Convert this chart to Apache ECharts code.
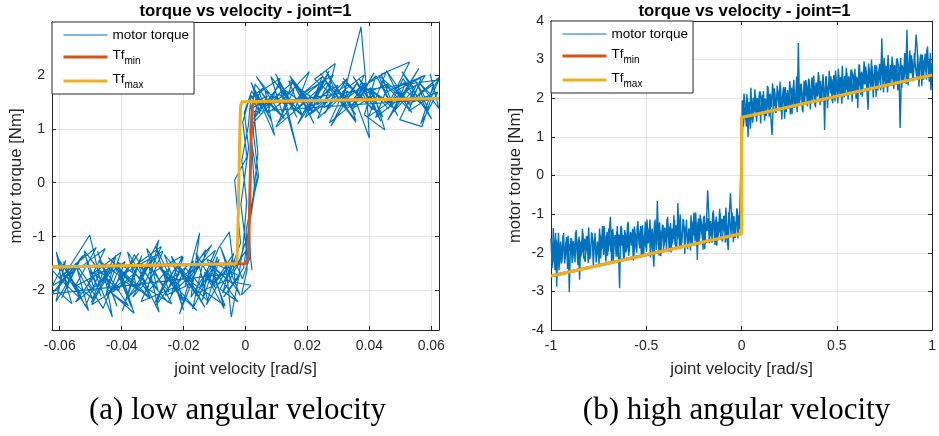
<!DOCTYPE html>
<html><head><meta charset="utf-8">
<script src="https://cdn.jsdelivr.net/npm/echarts@6/dist/echarts.min.js"></script>
<style>html,body{margin:0;padding:0;background:#fff}#c{width:939px;height:436px}</style>
</head><body><div id="c"></div>
<script>
// ---------- DATA ----------
const panelTitle = 'torque vs velocity - joint=1';
const captions = ['(a) low angular velocity', '(b) high angular velocity'];
const seriesNames = ['motor torque', 'Tf_min', 'Tf_max'];

// (a) low angular velocity: measured samples [velocity, torque] in time order
const lowVelTorque = [
[-0.0625,-1.62],[-0.0571,-1.95],[-0.0608,-1.38],[-0.0532,-2.05],[-0.0585,-1.71],[-0.0503,-0.97],[-0.0468,-1.84],[-0.0549,-2.21],[-0.0461,-1.52],[-0.0430,-2.49],
[-0.0487,-1.66],[-0.0402,-1.29],[-0.0445,-1.98],[-0.0360,-2.42],[-0.0413,-1.47],[-0.0327,-1.82],[-0.0381,-2.14],[-0.0296,-1.41],[-0.0342,-1.76],[-0.0280,-1.06],
[-0.0318,-2.03],[-0.0245,-1.58],[-0.0289,-2.27],[-0.0214,-1.69],[-0.0262,-1.33],[-0.0200,-2.36],[-0.0231,-1.74],[-0.0168,-1.45],[-0.0195,-1.91],[-0.0148,-0.93],
[-0.0176,-2.12],[-0.0122,-1.61],[-0.0139,-2.18],[-0.0091,-1.37],[-0.0108,-1.88],[-0.0063,-1.55],[-0.0046,-2.49],
[-0.0021,-1.71],[-0.0008,-1.18],[0.0004,-0.35],[-0.0012,0.42],[0.0009,1.05],[0.0018,1.62],
[0.0047,1.28],[0.0021,1.83],[0.0094,0.88],[0.0063,1.71],[0.0135,1.42],[0.0102,1.95],[0.0168,0.58],[0.0127,1.57],[0.0206,2.06],[0.0158,1.34],
[0.0241,1.76],[0.0192,1.21],[0.0280,1.63],[0.0223,1.92],[0.0290,2.21],[0.0254,1.39],[0.0331,1.70],[0.0276,1.05],[0.0362,1.86],[0.0310,1.47],
[0.0373,2.89],[0.0390,1.78],[0.0400,0.83],[0.0352,1.58],[0.0421,1.98],[0.0384,1.26],[0.0450,0.98],[0.0412,1.69],[0.0476,1.44],[0.0438,2.01],
[0.0530,2.24],[0.0467,1.52],[0.0552,1.81],[0.0498,1.17],[0.0570,1.04],[0.0605,1.66],[0.0625,1.91],
[0.0036,1.44],[0.0025,0.95],[0.0042,0.12],[0.0011,-0.62],[0.0016,-1.36],[-0.0010,-1.78],
[-0.0035,-1.44],[-0.0082,-1.97],[-0.0024,-2.21],[-0.0115,-1.52],[-0.0058,-1.80],[-0.0154,-2.04],[-0.0097,-1.25],[-0.0187,-1.72],[-0.0131,-2.31],[-0.0222,-1.49],
[-0.0170,-1.86],[-0.0259,-2.09],[-0.0204,-1.36],[-0.0293,-1.64],[-0.0238,-2.25],[-0.0330,-1.92],[-0.0272,-1.18],[-0.0366,-1.57],[-0.0309,-2.11],[-0.0402,-1.79],
[-0.0345,-1.31],[-0.0438,-2.02],[-0.0378,-2.28],[-0.0474,-1.44],[-0.0416,-1.69],[-0.0460,-2.33],[-0.0509,-1.88],[-0.0453,-1.22],[-0.0543,-1.61],[-0.0492,-2.16],
[-0.0578,-1.74],[-0.0526,-1.35],[-0.0610,-1.99],[-0.0561,-2.24],[-0.0611,-1.28],[-0.0594,-1.84],[-0.0625,-2.06],
[-0.0052,-1.69],[-0.0016,-1.12],[-0.0035,0.05],[0.0005,0.48],[-0.0009,1.12],[0.0012,1.55],
[0.0058,1.76],[0.0012,1.36],[0.0088,1.58],[0.0035,1.97],[0.0119,1.22],[0.0074,1.49],[0.0150,1.85],[0.0108,1.12],[0.0184,1.68],[0.0143,1.98],
[0.0217,1.31],[0.0176,1.54],[0.0252,1.90],[0.0209,1.27],[0.0288,1.60],[0.0243,2.03],[0.0322,1.38],[0.0279,1.74],[0.0357,1.15],[0.0314,1.88],
[0.0392,1.51],[0.0348,1.97],[0.0428,1.29],[0.0386,1.65],[0.0463,1.84],[0.0420,1.21],[0.0499,1.56],[0.0455,2.08],[0.0534,1.42],[0.0491,1.72],
[0.0568,1.95],[0.0527,1.33],[0.0603,1.61],[0.0560,1.86],[0.0625,1.38],[0.0596,2.02],[0.0618,1.55],
[0.0027,1.32],[0.0040,0.54],[0.0022,-0.41],[0.0007,-1.02],[-0.0006,-1.58],
[-0.0071,-2.12],[-0.0019,-1.73],[-0.0124,-1.42],[-0.0066,-2.28],[-0.0178,-1.83],[-0.0109,-1.15],[-0.0233,-1.96],[-0.0157,-2.37],[-0.0286,-1.51],[-0.0213,-1.90],
[-0.0337,-2.20],[-0.0267,-1.27],[-0.0390,-1.68],[-0.0321,-2.06],[-0.0443,-1.39],[-0.0374,-1.81],[-0.0497,-2.26],[-0.0428,-1.55],[-0.0550,-1.92],[-0.0482,-1.20],
[-0.0603,-1.76],[-0.0535,-2.14],[-0.0588,-1.47],[-0.0517,-2.29],[-0.0469,-1.63],[-0.0411,-2.01],[-0.0359,-1.33],[-0.0302,-1.87],[-0.0250,-2.22],[-0.0194,-1.58],
[-0.0141,-1.94],[-0.0087,-1.21],[-0.0052,-0.91],[-0.0033,-1.85],[0.0018,-1.90],[-0.0013,-2.08],[0.0005,-1.62],
[0.0002,-0.88],[0.0038,0.10],[0.0014,0.95],[0.0024,1.48],
[0.0071,1.61],[0.0026,1.18],[0.0113,1.84],[0.0059,1.40],[0.0157,1.73],[0.0098,1.03],[0.0199,1.52],[0.0146,1.91],[0.0242,1.26],[0.0187,1.66],
[0.0284,2.00],[0.0230,1.44],[0.0327,1.81],[0.0271,1.11],[0.0369,1.57],[0.0315,1.94],[0.0411,1.35],[0.0356,1.70],[0.0454,2.05],[0.0398,1.23],
[0.0496,1.62],[0.0441,1.88],[0.0538,1.30],[0.0483,1.75],[0.0580,1.99],[0.0525,1.46],[0.0621,1.68],[0.0566,1.09],[0.0608,1.83],[0.0547,1.57],
[0.0509,1.93],[0.0461,1.37],[0.0404,1.76],[0.0338,1.49],[0.0262,1.86],[0.0181,1.25],[0.0109,1.64],
[0.0015,1.05],[0.0030,-0.15],[0.0008,-0.95],[-0.0021,-1.48],
[-0.0074,-2.05],[-0.0038,-1.31],[-0.0102,-1.88],[-0.0057,-1.57],[-0.0126,-2.26],[-0.0085,-1.42],[-0.0149,-1.95],[-0.0113,-1.68],[-0.0171,-2.34],
[-0.0128,-1.24],[-0.0193,-1.79],[-0.0157,-2.10],[-0.0224,-1.52],[-0.0181,-1.97],[-0.0239,-1.36],[-0.0203,-2.18],[-0.0268,-1.63],[-0.0232,-1.89],[-0.0291,-1.17],
[-0.0247,-2.03],[-0.0312,-1.55],[-0.0279,-2.40],[-0.0338,-1.72],[-0.0301,-1.40],[-0.0364,-2.12],[-0.0322,-1.85],[-0.0381,-1.28],[-0.0349,-1.99],[-0.0412,-1.61],
[-0.0368,-2.31],[-0.0429,-1.45],[-0.0394,-1.81],[-0.0451,-2.08],[-0.0418,-1.34],[-0.0477,-1.93],[-0.0436,-1.58],[-0.0498,-2.22],[-0.0463,-1.70],[-0.0521,-1.26],
[-0.0488,-2.01],[-0.0549,-1.49],[-0.0507,-2.37],[-0.0572,-1.77],[-0.0531,-1.39],[-0.0594,-2.14],[-0.0556,-1.66],[-0.0625,-1.92],[-0.0581,-1.44],[-0.0612,-2.20],
[-0.0547,-1.59],[-0.0603,-1.87],[-0.0519,-1.33],
[-0.0466,-2.11],[-0.0502,-1.63],[-0.0441,-1.90],[-0.0478,-1.27],[-0.0415,-2.29],[-0.0452,-1.74],[-0.0389,-1.46],[-0.0427,-2.02],[-0.0361,-1.69],[-0.0398,-2.38],
[-0.0335,-1.35],[-0.0372,-1.84],[-0.0308,-2.15],[-0.0346,-1.51],[-0.0283,-1.98],[-0.0319,-1.22],[-0.0255,-1.77],[-0.0294,-2.24],[-0.0228,-1.60],[-0.0266,-1.91],
[-0.0201,-1.38],[-0.0240,-2.07],[-0.0176,-1.71],[-0.0213,-2.43],[-0.0149,-1.48],[-0.0187,-1.83],[-0.0122,-2.19],[-0.0160,-1.30],[-0.0096,-1.96],[-0.0133,-1.66],
[-0.0069,-2.33],[-0.0107,-1.54],[-0.0043,-1.87],[-0.0081,-1.19],[-0.0017,-2.09],[-0.0055,-1.73],
[0.0003,-1.25],[-0.0015,-0.40],[0.0010,0.65],[-0.0004,1.30],[0.0020,1.70],
[0.0052,1.38],[0.0018,1.86],[0.0083,1.15],[0.0044,1.67],[0.0112,1.94],[0.0071,1.29],[0.0139,1.58],[0.0097,2.02],[0.0166,1.21],[0.0124,1.73],
[0.0193,1.45],[0.0151,1.88],[0.0221,1.10],[0.0178,1.62],[0.0247,1.96],[0.0206,1.33],[0.0274,1.77],[0.0233,1.19],[0.0302,1.55],[0.0259,2.09],
[0.0329,1.41],[0.0287,1.83],[0.0356,1.26],[0.0313,1.69],[0.0383,2.00],[0.0341,1.36],[0.0411,1.61],[0.0368,1.92],[0.0437,1.14],[0.0396,1.72],
[0.0465,1.50],[0.0423,1.98],[0.0492,1.24],[0.0450,1.66],[0.0519,1.87],[0.0477,1.31],[0.0546,1.74],[0.0505,2.06],[0.0573,1.43],[0.0532,1.80],
[0.0601,1.18],[0.0559,1.64],[0.0625,1.95],[0.0586,1.52],
[0.0548,1.90],[0.0591,1.35],[0.0517,1.71],[0.0560,2.12],[0.0488,1.47],[0.0531,1.79],[0.0459,1.16],[0.0502,1.63],[0.0430,1.99],[0.0473,1.40],
[0.0401,1.75],[0.0444,1.22],[0.0372,1.57],[0.0415,2.04],[0.0343,1.33],[0.0386,1.85],[0.0314,1.49],[0.0357,1.12],[0.0285,1.68],[0.0328,1.93],
[0.0256,1.28],[0.0299,1.81],[0.0227,1.54],[0.0270,2.07],[0.0198,1.37],[0.0241,1.70],[0.0169,1.09],[0.0212,1.59],[0.0140,1.89],[0.0183,1.25],
[0.0111,1.76],[0.0154,1.42],[0.0082,1.97],[0.0125,1.19],[0.0053,1.65],[0.0096,1.34],[0.0031,1.83],
[0.0015,1.05],[0.0030,-0.15],[0.0008,-0.95],[0.0021,-1.62]
];
const lowTfMin = [[-0.0625,-1.56],[-0.0003,-1.50],[0.0009,-1.42],[0.0013,-0.5],[0.0018,0.8],[0.0022,1.42],[0.0028,1.50],[0.0625,1.56]];
const lowTfMax = [[-0.0625,-1.56],[-0.0032,-1.50],[-0.0027,-1.42],[-0.0023,-0.5],[-0.0019,0.8],[-0.0016,1.42],[-0.0012,1.50],[0.0625,1.56]];

// (b) high angular velocity: sweep up (neg -> pos) then sweep down (pos -> neg)
const highVelNegUp = [
-1.000,-0.994,-0.988,-0.982,-0.976,-0.970,-0.964,-0.958,-0.952,-0.946,
-0.940,-0.934,-0.928,-0.922,-0.916,-0.910,-0.904,-0.898,-0.892,-0.886,
-0.880,-0.874,-0.868,-0.862,-0.856,-0.850,-0.844,-0.838,-0.832,-0.826,
-0.820,-0.814,-0.808,-0.802,-0.796,-0.790,-0.784,-0.778,-0.772,-0.766,
-0.760,-0.754,-0.748,-0.742,-0.736,-0.730,-0.724,-0.718,-0.712,-0.706,
-0.700,-0.694,-0.688,-0.682,-0.676,-0.670,-0.664,-0.658,-0.652,-0.646,
-0.640,-0.634,-0.628,-0.622,-0.616,-0.610,-0.604,-0.598,-0.592,-0.586,
-0.580,-0.574,-0.568,-0.562,-0.556,-0.550,-0.544,-0.538,-0.532,-0.526,
-0.520,-0.514,-0.508,-0.502,-0.496,-0.490,-0.484,-0.478,-0.472,-0.466,
-0.460,-0.454,-0.448,-0.442,-0.436,-0.430,-0.424,-0.418,-0.412,-0.406,
-0.400,-0.394,-0.388,-0.382,-0.376,-0.370,-0.364,-0.358,-0.352,-0.346,
-0.340,-0.334,-0.328,-0.322,-0.316,-0.310,-0.304,-0.298,-0.292,-0.286,
-0.280,-0.274,-0.268,-0.262,-0.256,-0.250,-0.244,-0.238,-0.232,-0.226,
-0.220,-0.214,-0.208,-0.202,-0.196,-0.190,-0.184,-0.178,-0.172,-0.166,
-0.160,-0.154,-0.148,-0.142,-0.136,-0.130,-0.124,-0.118,-0.112,-0.106,
-0.100,-0.094,-0.088,-0.082,-0.076,-0.070,-0.064,-0.058,-0.052,-0.046,
-0.040,-0.034,-0.028,-0.022,-0.016,-0.010
];
const highTorqueNegUp = [
-1.63,-2.40,-1.36,-2.23,-1.48,-2.88,-1.70,-2.46,-1.92,-2.28,
-2.12,-1.49,-2.28,-1.72,-2.00,-1.56,-3.02,-1.82,-1.63,-2.16,
-1.79,-2.25,-1.41,-2.03,-1.65,-2.70,-1.71,-1.99,-1.49,-2.15,
-2.23,-1.57,-1.97,-1.35,-2.17,-1.77,-1.49,-2.37,-1.65,-1.90,
-2.11,-1.75,-2.29,-1.53,-1.93,-1.31,-2.06,-1.66,-2.23,-1.46,
-1.98,-1.45,-1.07,-2.26,-1.38,-1.82,-1.54,-2.10,-1.31,-1.94,
-2.92,-1.32,-1.82,-1.54,-2.16,-1.48,-1.86,-1.24,-2.08,-1.62,
-1.73,-1.48,-2.20,-1.32,-1.60,-2.00,-1.18,-1.80,-1.40,-2.06,
-1.29,-2.06,-1.49,-1.89,-1.14,-1.76,-1.36,-2.12,-1.58,-1.94,
-2.36,-1.14,-1.93,-0.66,-1.65,-1.21,-2.09,-1.47,-1.28,-1.81,
-1.45,-1.91,-1.07,-1.69,-1.31,-1.99,-1.37,-1.65,-1.15,-1.81,
-1.89,-0.71,-1.63,-1.01,-1.83,-1.43,-1.15,-2.03,-1.31,-1.56,
-1.76,-1.40,-1.94,-1.18,-1.58,-0.96,-1.71,-1.31,-2.19,-1.11,
-1.64,-1.11,-1.30,-1.92,-1.04,-1.48,-1.20,-0.38,-0.97,-1.60,
-1.28,-1.74,-0.90,-1.52,-1.14,-1.82,-1.20,-1.48,-0.98,-1.64,
-1.71,-1.05,-1.45,-0.83,-1.65,-1.93,-0.97,-0.46,-1.13,-1.38,
-1.05,-1.62,-1.18,-0.88,-1.49,-1.10
];
const highVelPosUp = [
0.004,0.010,0.016,0.022,0.028,0.034,0.040,0.046,0.052,0.058,
0.064,0.070,0.076,0.082,0.088,0.094,0.100,0.106,0.112,0.118,
0.124,0.130,0.136,0.142,0.148,0.154,0.160,0.166,0.172,0.178,
0.184,0.190,0.196,0.202,0.208,0.214,0.220,0.226,0.232,0.238,
0.244,0.250,0.256,0.262,0.268,0.274,0.280,0.286,0.292,0.298,
0.304,0.310,0.316,0.322,0.328,0.334,0.340,0.346,0.352,0.358,
0.364,0.370,0.376,0.382,0.388,0.394,0.400,0.406,0.412,0.418,
0.424,0.430,0.436,0.442,0.448,0.454,0.460,0.466,0.472,0.478,
0.484,0.490,0.496,0.502,0.508,0.514,0.520,0.526,0.532,0.538,
0.544,0.550,0.556,0.562,0.568,0.574,0.580,0.586,0.592,0.598,
0.604,0.610,0.616,0.622,0.628,0.634,0.640,0.646,0.652,0.658,
0.664,0.670,0.676,0.682,0.688,0.694,0.700,0.706,0.712,0.718,
0.724,0.730,0.736,0.742,0.748,0.754,0.760,0.766,0.772,0.778,
0.784,0.790,0.796,0.802,0.808,0.814,0.820,0.826,0.832,0.838,
0.844,0.850,0.856,0.862,0.868,0.874,0.880,0.886,0.892,0.898,
0.904,0.910,0.916,0.922,0.928,0.934,0.940,0.946,0.952,0.958,
0.964,0.970,0.976,0.982,0.988,0.994,1.000
];
const highTorquePosUp = [
1.95,1.27,1.77,1.43,2.11,1.00,1.90,1.21,1.73,1.37,
1.61,2.23,1.51,2.01,1.77,2.17,1.35,1.95,2.09,1.57,
2.00,1.54,2.32,1.76,2.10,1.48,1.05,1.80,2.26,1.62,
1.59,2.21,1.85,2.43,1.65,2.01,2.29,1.47,2.13,1.89,
1.74,2.10,1.58,2.27,1.92,2.48,1.80,2.14,1.64,3.43,
1.85,2.37,2.23,1.63,2.45,2.05,2.29,1.79,2.51,1.89,
1.90,2.54,2.08,2.32,1.76,2.38,2.04,2.60,1.82,2.28,
2.17,2.41,1.18,2.57,2.29,1.93,2.71,2.13,2.49,1.87,
2.60,1.92,2.42,2.08,2.76,2.20,2.55,1.86,2.38,2.02,
2.17,2.79,2.07,2.57,2.33,2.73,1.91,2.51,2.65,2.13,
2.56,1.75,2.88,2.32,2.66,2.04,2.60,2.36,2.82,2.18,
1.70,2.78,2.42,3.00,2.22,2.58,2.86,2.04,2.70,2.46,
2.89,2.21,3.55,2.37,3.05,2.49,2.84,2.15,2.67,2.31,
2.46,3.08,2.36,2.86,2.62,3.02,2.20,2.80,1.23,2.42,
2.85,2.39,3.17,2.61,3.77,2.33,2.89,2.65,3.11,2.47,
2.44,3.06,3.65,3.28,2.50,2.86,3.14,2.32,2.98,2.74,
3.16,2.48,3.34,2.64,3.02,2.21,2.90
];
const highVelPosDown = [
0.997,0.991,0.985,0.979,0.973,0.967,0.961,0.955,0.949,0.943,
0.937,0.931,0.925,0.919,0.913,0.907,0.901,0.895,0.889,0.883,
0.877,0.871,0.865,0.859,0.853,0.847,0.841,0.835,0.829,0.823,
0.817,0.811,0.805,0.799,0.793,0.787,0.781,0.775,0.769,0.763,
0.757,0.751,0.745,0.739,0.733,0.727,0.721,0.715,0.709,0.703,
0.697,0.691,0.685,0.679,0.673,0.667,0.661,0.655,0.649,0.643,
0.637,0.631,0.625,0.619,0.613,0.607,0.601,0.595,0.589,0.583,
0.577,0.571,0.565,0.559,0.553,0.547,0.541,0.535,0.529,0.523,
0.517,0.511,0.505,0.499,0.493,0.487,0.481,0.475,0.469,0.463,
0.457,0.451,0.445,0.439,0.433,0.427,0.421,0.415,0.409,0.403,
0.397,0.391,0.385,0.379,0.373,0.367,0.361,0.355,0.349,0.343,
0.337,0.331,0.325,0.319,0.313,0.307,0.301,0.295,0.289,0.283,
0.277,0.271,0.265,0.259,0.253,0.247,0.241,0.235,0.229,0.223,
0.217,0.211,0.205,0.199,0.193,0.187,0.181,0.175,0.169,0.163,
0.157,0.151,0.145,0.139,0.133,0.127,0.121,0.115,0.109,0.103,
0.097,0.091,0.085,0.079,0.073,0.067,0.061,0.055,0.049,0.043,
0.037,0.031,0.025,0.019,0.013,0.007
];
const highTorquePosDown = [
2.59,3.17,2.43,2.91,3.28,2.68,3.05,2.48,3.13,2.79,
2.95,2.30,3.13,2.56,2.79,3.18,2.47,3.01,2.65,3.24,
2.62,2.97,2.37,3.15,2.51,2.81,2.27,3.04,2.46,2.85,
3.03,2.41,2.72,2.24,2.94,2.50,2.86,2.35,3.12,2.46,
2.31,2.89,2.15,2.63,3.00,2.40,2.77,2.20,2.85,2.51,
2.67,2.02,2.85,2.28,2.51,2.90,2.19,2.73,2.37,2.96,
2.34,2.69,2.09,2.87,2.23,2.53,1.99,2.76,2.18,2.57,
2.75,2.13,2.44,1.96,2.66,2.22,2.58,2.07,2.84,2.18,
2.03,2.61,1.87,2.35,2.72,2.12,2.49,1.92,2.57,2.23,
2.39,1.74,2.57,2.00,2.23,2.62,1.91,2.45,2.09,2.68,
2.06,2.41,1.81,2.59,1.95,2.25,1.71,2.48,1.90,2.29,
2.47,1.85,2.16,1.68,2.38,1.94,2.30,1.79,2.56,1.90,
1.75,2.33,1.59,2.07,2.44,1.84,2.21,1.64,2.29,1.95,
2.10,1.45,2.28,1.71,1.94,2.33,1.62,2.16,1.80,2.39,
1.77,2.12,1.52,2.30,1.66,1.96,1.42,2.19,1.61,2.00,
2.18,1.56,1.87,1.39,2.09,1.65,2.01,1.50,2.27,1.61,
1.43,2.01,1.27,1.75,2.12,1.52
];
const highVelNegDown = [
-0.007,-0.013,-0.019,-0.025,-0.031,-0.037,-0.043,-0.049,-0.055,-0.061,
-0.067,-0.073,-0.079,-0.085,-0.091,-0.097,-0.103,-0.109,-0.115,-0.121,
-0.127,-0.133,-0.139,-0.145,-0.151,-0.157,-0.163,-0.169,-0.175,-0.181,
-0.187,-0.193,-0.199,-0.205,-0.211,-0.217,-0.223,-0.229,-0.235,-0.241,
-0.247,-0.253,-0.259,-0.265,-0.271,-0.277,-0.283,-0.289,-0.295,-0.301,
-0.307,-0.313,-0.319,-0.325,-0.331,-0.337,-0.343,-0.349,-0.355,-0.361,
-0.367,-0.373,-0.379,-0.385,-0.391,-0.397,-0.403,-0.409,-0.415,-0.421,
-0.427,-0.433,-0.439,-0.445,-0.451,-0.457,-0.463,-0.469,-0.475,-0.481,
-0.487,-0.493,-0.499,-0.505,-0.511,-0.517,-0.523,-0.529,-0.535,-0.541,
-0.547,-0.553,-0.559,-0.565,-0.571,-0.577,-0.583,-0.589,-0.595,-0.601,
-0.607,-0.613,-0.619,-0.625,-0.631,-0.637,-0.643,-0.649,-0.655,-0.661,
-0.667,-0.673,-0.679,-0.685,-0.691,-0.697,-0.703,-0.709,-0.715,-0.721,
-0.727,-0.733,-0.739,-0.745,-0.751,-0.757,-0.763,-0.769,-0.775,-0.781,
-0.787,-0.793,-0.799,-0.805,-0.811,-0.817,-0.823,-0.829,-0.835,-0.841,
-0.847,-0.853,-0.859,-0.865,-0.871,-0.877,-0.883,-0.889,-0.895,-0.901,
-0.907,-0.913,-0.919,-0.925,-0.931,-0.937,-0.943,-0.949,-0.955,-0.961,
-0.967,-0.973,-0.979,-0.985,-0.991,-0.997
];
const highTorqueNegDown = [
-1.38,-1.03,-1.63,-0.85,-1.49,-1.19,-1.73,-0.96,-1.54,-1.15,
-0.95,-1.57,-1.26,-1.74,-1.04,-1.48,-1.12,-1.63,-0.86,-1.52,
-1.64,-1.06,-1.80,-1.32,-0.95,-1.55,-1.18,-1.75,-1.10,-1.44,
-1.25,-1.90,-1.07,-1.64,-1.41,-1.02,-1.73,-1.19,-1.55,-0.96,
-1.56,-1.21,-1.81,-1.03,-1.67,-1.37,-1.91,-1.14,-1.72,-1.33,
-1.12,-1.74,-1.43,-1.91,-1.21,-1.65,-1.29,-1.80,-1.03,-1.69,
-1.81,-1.23,-1.97,-1.49,-1.12,-1.72,-1.35,-1.92,-1.27,-1.61,
-1.43,-2.08,-1.25,-1.82,-1.59,-1.20,-1.91,-1.37,-1.73,-1.14,
-1.73,-1.38,-1.98,-1.20,-1.84,-1.54,-2.08,-1.31,-1.89,-1.50,
-1.29,-1.91,-1.60,-2.08,-1.38,-1.82,-1.46,-1.97,-1.20,-1.86,
-1.99,-1.41,-2.15,-1.67,-1.30,-1.90,-1.53,-2.10,-1.45,-1.79,
-1.60,-2.25,-1.42,-1.99,-1.76,-1.37,-2.08,-1.54,-1.90,-1.31,
-1.90,-1.55,-2.15,-1.37,-2.01,-1.71,-2.25,-1.48,-2.06,-1.67,
-1.47,-2.09,-1.78,-2.26,-1.56,-2.00,-1.64,-2.15,-1.38,-2.04,
-2.16,-1.58,-2.32,-1.84,-1.47,-2.07,-1.70,-2.27,-1.62,-1.96,
-1.77,-2.42,-1.59,-2.16,-1.93,-1.54,-2.25,-1.71,-2.07,-1.48,
-2.21,-1.66,-2.45,-1.82,-2.30,-1.75
];
const highTfMin = [[-1,-2.60],[0,-1.50],[0,1.50],[1,2.60]];
const highTfMax = [[-1,-2.60],[0,-1.50],[0,1.50],[1,2.60]];

const lowXRange = [-0.0625, 0.0625];
const lowYRange = [-2.73, 2.98];
const highXRange = [-1, 1];
const highYRange = [-4, 4];

// ---------- CHART ----------
const highData = [];
[[highVelNegUp, highTorqueNegUp], [highVelPosUp, highTorquePosUp],
 [highVelPosDown, highTorquePosDown], [highVelNegDown, highTorqueNegDown]]
  .forEach(([vx, vy]) => vx.forEach((v, i) => highData.push([v, vy[i]])));

const FONT = '"Liberation Sans", Arial, Helvetica, sans-serif';
const AXC = '#262626';
const GRIDC = '#e3e3e3';
const BLUE = '#0072BD', RED = '#D95319', YEL = '#EDB120';

function fmt(v) {
  const r = Math.round(v * 1000) / 1000;
  if (Math.abs(r * 1000 - Math.round(r * 1000)) > 1e-6) return '';
  return String(r);
}
function xAx(gi, rng, main, extra) {
  return Object.assign({
    type: 'value', gridIndex: gi, min: rng[0], max: rng[1],
    position: main ? 'bottom' : 'top',
    axisLine: { show: true, onZero: false, lineStyle: { color: AXC, width: 1 } },
    axisTick: { show: true, inside: true, length: 4, lineStyle: { color: AXC } },
    axisLabel: { show: main, color: AXC, fontSize: 14, fontFamily: FONT, margin: 9 },
    splitLine: { show: main, lineStyle: { color: GRIDC, width: 1 } },
    name: main ? 'joint velocity [rad/s]' : '', nameLocation: 'middle', nameGap: 31,
    nameTextStyle: { color: AXC, fontSize: 16.8, fontFamily: FONT }
  }, extra || {});
}
function yAx(gi, rng, main, extra) {
  return Object.assign({
    type: 'value', gridIndex: gi, min: rng[0], max: rng[1],
    position: main ? 'left' : 'right',
    axisLine: { show: true, onZero: false, lineStyle: { color: AXC, width: 1 } },
    axisTick: { show: true, inside: true, length: 4, lineStyle: { color: AXC } },
    axisLabel: { show: main, color: AXC, fontSize: 14, fontFamily: FONT, margin: 7 },
    splitLine: { show: main, lineStyle: { color: GRIDC, width: 1 } },
    name: main ? 'motor torque [Nm]' : '', nameLocation: 'middle', nameGap: 27,
    nameTextStyle: { color: AXC, fontSize: 16.8, fontFamily: FONT }
  }, extra || {});
}
const lowXExtra = { splitNumber: 6 };
const lowYExtra = { splitNumber: 5 };
const lowLabel = { color: AXC, fontSize: 14, fontFamily: FONT, showMinLabel: false, showMaxLabel: false };

function lineSeries(name, data, xi, yi, color, width, z) {
  return {
    type: 'line', name, data, xAxisIndex: xi, yAxisIndex: yi,
    symbol: 'none', showSymbol: false, silent: true, animation: false, z,
    lineStyle: { color, width }, itemStyle: { color },
    emphasis: { disabled: true }
  };
}

function legendFor(left, top) {
  return {
    left, top, orient: 'vertical', padding: [6, 5, 4, 10], itemGap: 6,
    itemWidth: 44, itemHeight: 14,
    backgroundColor: '#fff', borderColor: '#262626', borderWidth: 1, borderRadius: 0,
    data: seriesNames, selectedMode: false,
    itemStyle: { opacity: 0 },
    lineStyle: { width: 'inherit' },
    formatter: n => n === 'Tf_min' ? '{b|Tf}{s|min}' : (n === 'Tf_max' ? '{b|Tf}{s|max}' : '{m|' + n + '}'),
    textStyle: {
      color: '#000', fontFamily: FONT, fontSize: 13.5,
      rich: {
        m: { fontSize: 13.5, lineHeight: 16, fontFamily: FONT, color: '#000' },
        b: { fontSize: 13.5, lineHeight: 16, padding: [0, 0, 4, 0], fontFamily: FONT, color: '#000' },
        s: { fontSize: 10, lineHeight: 12, padding: [8, 0, 0, 0], fontFamily: FONT, color: '#000' }
      }
    }
  };
}

const chart = echarts.init(document.getElementById('c'), null, { renderer: 'canvas' });
chart.setOption({
  animation: false,
  backgroundColor: '#fff',
  grid: [
    { left: 52, top: 22, width: 387, height: 308 },
    { left: 551, top: 21, width: 387, height: 309 }
  ],
  xAxis: [
    xAx(0, lowXRange, true, Object.assign({}, lowXExtra, { axisLabel: Object.assign({}, lowLabel, { margin: 9, formatter: fmt }) })),
    xAx(0, lowXRange, false, lowXExtra),
    xAx(1, highXRange, true, { interval: 0.5, axisLabel: { color: AXC, fontSize: 14, fontFamily: FONT, margin: 9, showMinLabel: true, showMaxLabel: true } }),
    xAx(1, highXRange, false, { interval: 0.5 })
  ],
  yAxis: [
    yAx(0, lowYRange, true, Object.assign({}, lowYExtra, { axisLabel: Object.assign({}, lowLabel, { margin: 7, formatter: fmt }) })),
    yAx(0, lowYRange, false, lowYExtra),
    yAx(1, highYRange, true, { interval: 1, axisLabel: { color: AXC, fontSize: 14, fontFamily: FONT, margin: 7, showMinLabel: true, showMaxLabel: true } }),
    yAx(1, highYRange, false, { interval: 1 })
  ],
  legend: [legendFor(52, 22), legendFor(551, 21)],
  series: [
    lineSeries(seriesNames[0], lowVelTorque, 0, 0, BLUE, 1.15, 2),
    lineSeries(seriesNames[1], lowTfMin, 0, 0, RED, 3, 3),
    lineSeries(seriesNames[2], lowTfMax, 0, 0, YEL, 3, 4),
    lineSeries(seriesNames[0], highData, 2, 2, BLUE, 1.4, 2),
    lineSeries(seriesNames[1], highTfMin, 2, 2, RED, 3, 3),
    lineSeries(seriesNames[2], highTfMax, 2, 2, YEL, 3, 4)
  ],
  graphic: [
    { type: 'text', x: 245.5, y: 11, silent: true, style: { text: panelTitle, fontSize: 16.8, fontWeight: 'bold', fontFamily: FONT, fill: '#000', align: 'center', verticalAlign: 'middle' } },
    { type: 'text', x: 744.5, y: 11, silent: true, style: { text: panelTitle, fontSize: 16.8, fontWeight: 'bold', fontFamily: FONT, fill: '#000', align: 'center', verticalAlign: 'middle' } },
    { type: 'text', x: 237.5, y: 411, silent: true, style: { text: captions[0], fontSize: 31, fontFamily: '"Liberation Serif", "DejaVu Serif", serif', fill: '#000', align: 'center', verticalAlign: 'middle' } },
    { type: 'text', x: 736.5, y: 411, silent: true, style: { text: captions[1], fontSize: 31, fontFamily: '"Liberation Serif", "DejaVu Serif", serif', fill: '#000', align: 'center', verticalAlign: 'middle' } }
  ]
});
</script>
</body></html>
